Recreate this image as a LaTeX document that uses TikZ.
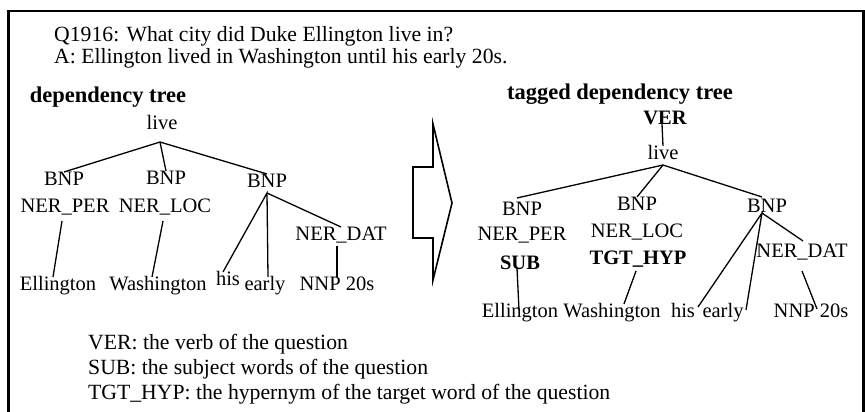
\documentclass[tikz,border=0pt]{standalone}
\usepackage{fontspec}
\setmainfont{Liberation Serif}
\begin{document}
\begin{tikzpicture}[x=1pt,y=-1pt,
  every node/.style={font=\fontsize{20.5}{24}\selectfont},
  hd/.style={font=\fontsize{20.5}{24}\selectfont\bfseries},
  ttl/.style={font=\fontsize{22.5}{26}\selectfont\bfseries},
  tn/.style={inner sep=0pt, outer xsep=0pt, outer ysep=7pt, text height=1.5ex, text depth=.25ex},
  txt/.style={inner sep=0pt, anchor=west, text height=1.5ex, text depth=.25ex, font=\fontsize{21.7}{25}\selectfont},
  edge/.style={line width=1.3pt},
  frame/.style={line width=2.5pt},
  bigarrow/.style={line width=1.6pt, line join=miter}]
\useasboundingbox (0,0) rectangle (865,412);
\draw[frame] (8.5,414) -- (8.5,11) -- (863.5,11) -- (863.5,414);
\node[txt] (q) at (54,39) {Q1916: What city did Duke Ellington live in?};
\node[txt] (a) at (54,61) {A: Ellington lived in Washington until his early 20s.};
\node[tn,ttl] (ttlL) at (108,100) {dependency tree};
\node[tn,ttl] (ttlR) at (620,97) {tagged dependency tree};
\node[tn] (liveL) at (162,127) {live};
\node[tn] (bnpL1) at (64,183) {BNP};
\node[tn] (bnpL2) at (166,182) {BNP};
\node[tn] (bnpL3) at (267,185) {BNP};
\draw[edge] (bnpL1.north) -- ([shift={(-2,4)}]liveL.south) -- (bnpL3.north);
\draw[edge] ([shift={(-2,4)}]liveL.south) -- (bnpL2.north);
\node[tn] (perL) at (65,210) {NER\_PER};
\node[tn] (locL) at (165,210) {NER\_LOC};
\node[tn] (datL) at (341,238) {NER\_DAT};
\node[tn] (ellL) at (58,288) {Ellington};
\node[tn] (washL) at (158,288) {Washington};
\node[tn] (hisL) at (228,283) {his};
\node[tn] (earlyL) at (265,288) {early};
\node[tn] (nnpL) at (337,288) {NNP 20s};
\draw[edge] ([shift={(-3,0)}]perL.south) -- ([shift={(-5,0)}]ellL.north);
\draw[edge] ([shift={(-2,0)}]locL.south) -- ([shift={(-6,0)}]washL.north);
\draw[edge] ([shift={(-5,0)}]hisL.north) -- ([shift={(0,-3)}]bnpL3.south) -- ([shift={(3,0)}]earlyL.north);
\draw[edge] ([shift={(0,-3)}]bnpL3.south) -- (datL.north);
\draw[edge] ([shift={(-4,-3)}]datL.south) -- (nnpL.north);
\draw[bigarrow] (413,167) -- (433,167) -- (433,124) -- (452,203) -- (433,280) -- (433,238) -- (413,238) -- cycle;
\node[tn,hd] (verR) at (665,122) {VER};
\node[tn] (liveR) at (663,157) {live};
\node[tn] (bnpR1) at (522,213) {BNP};
\node[tn] (bnpR2) at (637,208) {BNP};
\node[tn] (bnpR3) at (767,210) {BNP};
\draw[edge] ([shift={(-3,-9)}]verR.south) -- (liveR.north);
\draw[edge] ([shift={(-5,-4)}]bnpR1.north) -- ([shift={(0,-3)}]liveR.south) -- ([shift={(-5,-2)}]bnpR3.north);
\draw[edge] ([shift={(0,-3)}]liveR.south) -- (bnpR2.north);
\node[tn] (perR) at (522,238) {NER\_PER};
\node[tn] (locR) at (637,235) {NER\_LOC};
\node[tn] (datR) at (802,255) {NER\_DAT};
\node[tn,hd] (subR) at (520,267) {SUB};
\node[tn,hd] (tgtR) at (638,262) {TGT\_HYP};
\node[tn] (ellR) at (520,315) {Ellington};
\node[tn] (washR) at (612,315) {Washington};
\node[tn] (hisR) at (683,315) {his};
\node[tn] (earlyR) at (723,315) {early};
\node[tn] (nnpR) at (811,315) {NNP 20s};
\draw[edge] ([shift={(-3,-10)}]subR.south) -- ([shift={(-1,6)}]ellR.north);
\draw[edge] ([shift={(-2,-2)}]tgtR.south) -- ([shift={(12,0)}]washR.north);
\draw[edge] ([shift={(15,3)}]hisR.north) -- ([shift={(-5,-8)}]bnpR3.south) -- ([shift={(23,6)}]earlyR.north);
\draw[edge] ([shift={(-5,-8)}]bnpR3.south) -- ([shift={(1,-3)}]datR.north);
\draw[edge] ([shift={(0,5)}]datR.south) -- ([shift={(6,5)}]nnpR.north);
\node[txt] (legV) at (88,347) {VER: the verb of the question};
\node[txt] (legS) at (88,372) {SUB: the subject words of the question};
\node[txt] (legT) at (88,397) {TGT\_HYP: the hypernym of the target word of the question};
\end{tikzpicture}
\end{document}
